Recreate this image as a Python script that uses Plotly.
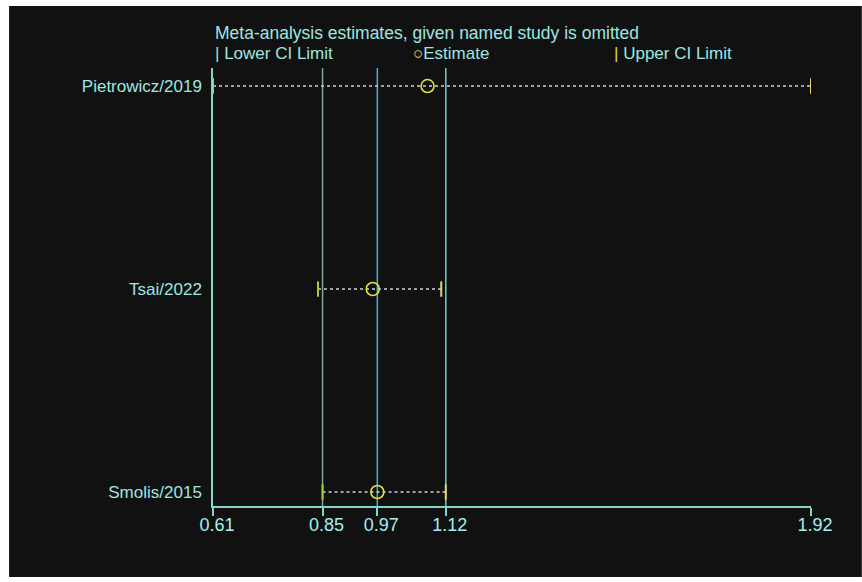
import plotly.graph_objects as go

# Leave-one-out meta-analysis: pooled estimate when the named study is omitted
studies = ["Pietrowicz/2019", "Tsai/2022", "Smolis/2015"]
lower_ci = [0.61, 0.84, 0.85]
estimate = [1.08, 0.96, 0.97]
upper_ci = [1.92, 1.11, 1.12]

# Reference lines: overall lower CI, estimate, upper CI
ref_values = [0.85, 0.97, 1.12]
ref_colors = ["#7fa89c", "#3fb6d6", "#74d2c6"]

tick_values = [0.61, 0.85, 0.97, 1.12, 1.92]
tick_labels = ["0.61", "0.85", "0.97", "1.12", "1.92"]

BG = "#111111"
TEXT = "#9ee6e0"
AXIS = "#86d6c8"
FONT = "Liberation Sans, Arial, sans-serif"

rows = list(range(len(studies), 0, -1))  # top-to-bottom order

fig = go.Figure()

# dotted CI spans
for y, lo, hi in zip(rows, lower_ci, upper_ci):
    fig.add_trace(go.Scatter(
        x=[lo, hi], y=[y, y], mode="lines",
        line=dict(color="#d2d2d2", width=1.5, dash="dot"),
        hoverinfo="skip", showlegend=False))

# lower and upper limit ticks
fig.add_trace(go.Scatter(
    x=lower_ci, y=rows, mode="markers",
    marker=dict(symbol="line-ns", size=11, color="#a6cf3e",
                line=dict(color="#a6cf3e", width=2)),
    showlegend=False))
fig.add_trace(go.Scatter(
    x=upper_ci, y=rows, mode="markers",
    marker=dict(symbol="line-ns", size=11, color="#e2d478",
                line=dict(color="#e2d478", width=2)),
    showlegend=False))

# point estimates
fig.add_trace(go.Scatter(
    x=estimate, y=rows, mode="markers",
    marker=dict(symbol="circle-open", size=13, color="#e6e044",
                line=dict(color="#e6e044", width=1.6)),
    showlegend=False))

shapes = [
    # dark chart panel on a thin white frame
    dict(type="rect", xref="paper", yref="paper",
         x0=-0.341, x1=1.085, y0=-0.162, y1=1.1416,
         fillcolor=BG, line=dict(width=0), layer="below"),
]
for v, c in zip(ref_values, ref_colors):
    shapes.append(dict(type="line", xref="x", yref="paper",
                       x0=v, x1=v, y0=0, y1=1,
                       line=dict(color=c, width=1.5), layer="below"))

annotations = [
    dict(text="Meta-analysis estimates, given named study is omitted",
         xref="paper", yref="paper", x=0, y=1.08,
         xanchor="left", yanchor="middle", showarrow=False,
         font=dict(size=17.5, color=TEXT, family=FONT)),
    dict(text="<span style='color:#b8d8d0'>|</span> Lower CI Limit",
         xref="paper", yref="paper", x=0, y=1.034,
         xanchor="left", yanchor="middle", showarrow=False,
         font=dict(size=17, color=TEXT, family=FONT)),
    dict(text="<span style='color:#e6e044'>○</span>Estimate",
         xref="paper", yref="paper", x=0.331, y=1.034,
         xanchor="left", yanchor="middle", showarrow=False,
         font=dict(size=17, color=TEXT, family=FONT)),
    dict(text="<span style='color:#e6d640'>|</span> Upper CI Limit",
         xref="paper", yref="paper", x=0.667, y=1.034,
         xanchor="left", yanchor="middle", showarrow=False,
         font=dict(size=17, color=TEXT, family=FONT)),
]

fig.update_layout(
    width=862, height=582,
    margin=dict(l=213, r=51, t=68, b=76),
    paper_bgcolor="white", plot_bgcolor=BG,
    shapes=shapes, annotations=annotations,
    font=dict(family=FONT, color=TEXT, size=16),
    xaxis=dict(range=[0.61, 1.92], tickvals=tick_values, ticktext=tick_labels,
               showgrid=False, zeroline=False, showline=True,
               linecolor=AXIS, linewidth=1.5,
               ticks="outside", ticklen=8, tickcolor=AXIS, tickwidth=1.5,
               ticklabelstandoff=-6, ticklabelshift=4,
               tickfont=dict(size=18, color="#a6eef0")),
    yaxis=dict(range=[0.931, 3.089], tickvals=rows, ticktext=studies,
               showgrid=False, zeroline=False, showline=True,
               linecolor=AXIS, linewidth=1.5, ticks="",
               ticklabelstandoff=6,
               tickfont=dict(size=17, color=TEXT)),
)

fig.write_html("out.html")
